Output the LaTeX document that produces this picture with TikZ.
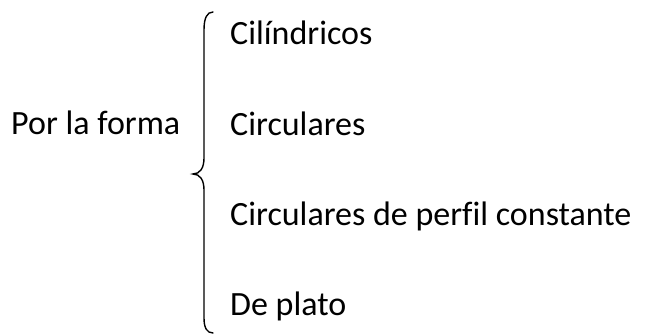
\documentclass[tikz,border=0pt]{standalone}
\usepackage{fontspec}
\setmainfont[Ligatures=NoCommon]{Carlito}
\begin{document}
\begin{tikzpicture}[x=1pt,y=1pt,
  lbl/.style={anchor=base west,inner sep=0pt,font=\fontsize{34}{40}\selectfont},
  bracestyle/.style={line width=1.4pt,line cap=round}]
\useasboundingbox (0,0) rectangle (647,335);
\node[lbl] (root) at (11,200) {Por la forma};
\node[lbl] (a) at (230,290) {Cilíndricos};
\node[lbl] (b) at (230,199) {Circulares};
\node[lbl] (c) at (230,110) {Circulares de perfil constante};
\node[lbl] (d) at (230,20) {De plato};
\coordinate (top) at (213,323);
\coordinate (tip) at (193,161);
\coordinate (bot) at (213,2);
\draw[bracestyle] (top) .. controls (207,323) and (204,317) .. (204,305)
  -- (204,177) .. controls (204,167) and (200,161) .. (tip)
  .. controls (200,161) and (204,155) .. (204,145)
  -- (204,17) .. controls (204,7) and (207,2) .. (bot);
\end{tikzpicture}
\end{document}
